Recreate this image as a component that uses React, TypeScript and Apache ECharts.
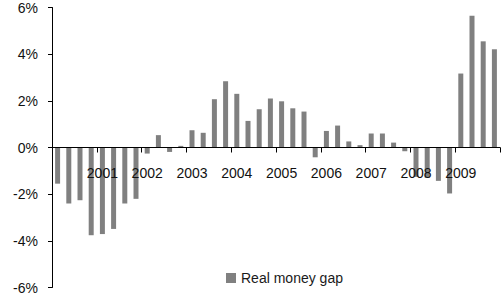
import React, { useEffect, useRef } from "react";
import * as echarts from "echarts";

const quarters: string[] = [];
const years = [2000, 2001, 2002, 2003, 2004, 2005, 2006, 2007, 2008, 2009];
for (const y of years) for (let q = 1; q <= 4; q++) quarters.push(`${y}Q${q}`);

const realMoneyGap = [
  -1.55, -2.4, -2.26, -3.76,
  -3.71, -3.49, -2.4, -2.2,
  -0.26, 0.53, -0.19, 0.07,
  0.74, 0.63, 2.07, 2.84,
  2.3, 1.14, 1.64, 2.1,
  1.98, 1.68, 1.54, -0.42,
  0.71, 0.94, 0.26, 0.1,
  0.6, 0.6, 0.21, -0.16,
  -1.26, -1.3, -1.43, -1.97,
  3.17, 5.65, 4.55, 4.21,
];

const yMin = -6;
const yMax = 6;
const seriesName = "Real money gap";
const FONT = "'Liberation Sans', Arial, sans-serif";

const GRID_TOP = 7.5;
const GRID_BOTTOM = 10.5;
const H = 298;

export default function App() {
  const ref = useRef<HTMLDivElement>(null);
  useEffect(() => {
    if (!ref.current) return;
    const chart = echarts.init(ref.current, undefined, { renderer: "svg" });
    const plotH = H - GRID_TOP - GRID_BOTTOM;
    const zeroOffset = -plotH * (0 - yMin) / (yMax - yMin);
    chart.setOption({
      animation: false,
      backgroundColor: "#ffffff",
      textStyle: { fontFamily: FONT },
      grid: {
        left: 52,
        right: 1,
        top: GRID_TOP,
        bottom: GRID_BOTTOM,
        containLabel: false,
        outerBoundsMode: "none",
      },
      legend: {
        data: [seriesName],
        left: 226,
        top: 271,
        padding: 0,
        itemWidth: 10,
        itemHeight: 10,
        icon: "rect",
        textStyle: { fontFamily: FONT, fontSize: 14, color: "#1a1a1a" },
      },
      xAxis: {
        type: "category",
        data: quarters,
        z: 5,
        position: "bottom",
        offset: zeroOffset,
        boundaryGap: true,
        axisLine: { onZero: false, lineStyle: { color: "#000", width: 1 } },
        axisTick: { show: true, interval: 3, length: 5, inside: false, lineStyle: { color: "#000" } },
        axisLabel: {
          interval: 3,
          margin: 18,
          fontSize: 14,
          color: "#111",
          fontFamily: FONT,
          formatter: (v: string, idx: number) => (idx === 0 ? "" : v.slice(0, 4)),
        },
        splitLine: { show: false },
      },
      yAxis: {
        type: "value",
        min: yMin,
        max: yMax,
        interval: 2,
        axisLine: { show: true, lineStyle: { color: "#000", width: 1 } },
        axisTick: { show: true, length: 4, lineStyle: { color: "#000" } },
        axisLabel: {
          margin: 14,
          fontSize: 14,
          color: "#111",
          fontFamily: FONT,
          formatter: (v: number) => `${v}%`,
        },
        splitLine: { show: false },
      },
      series: [
        {
          name: seriesName,
          type: "bar",
          data: realMoneyGap,
          barWidth: 5,
          itemStyle: { color: "#808080" },
        },
      ],
    });
    return () => chart.dispose();
  }, []);
  return (
    <div
      ref={ref}
      style={{ position: "absolute", left: 0, top: 0, width: 501, height: H }}
    />
  );
}
